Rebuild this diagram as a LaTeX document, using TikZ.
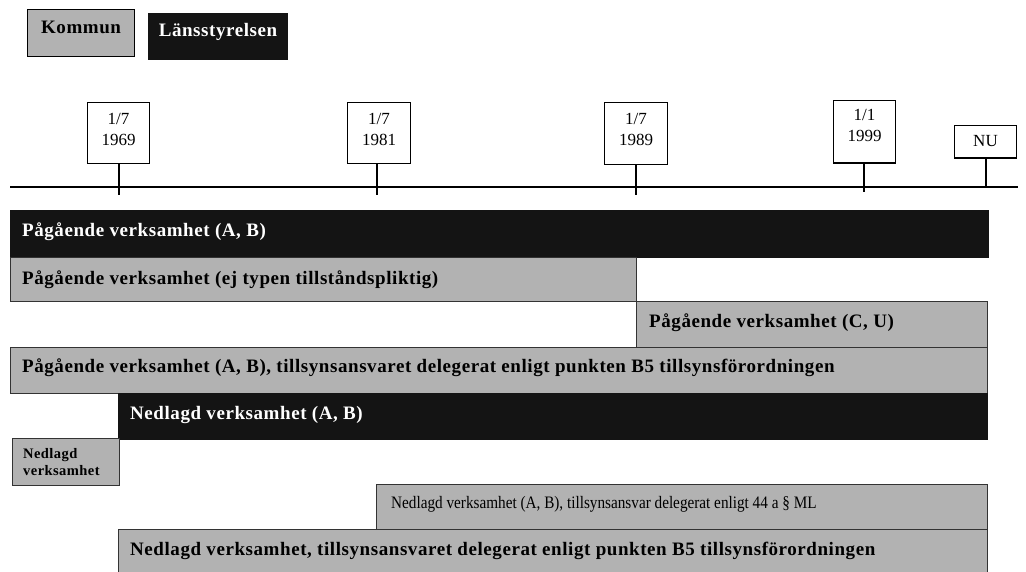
\documentclass[tikz,border=0pt]{standalone}
\usepackage{fontspec}
\usepackage{graphicx}
\setmainfont{Liberation Serif}
\newfontfamily\barfont[LetterSpace=3]{Liberation Serif}
\usetikzlibrary{calc}
\definecolor{bargray}{HTML}{B2B2B2}
\definecolor{barblack}{HTML}{141414}
\definecolor{edge}{HTML}{333333}
\begin{document}
\begin{tikzpicture}[x=1pt,y=-1pt,
  graybar/.style={draw=edge,line width=1pt,fill=bargray,inner sep=0pt,anchor=north west},
  blackbar/.style={draw=barblack,line width=1pt,fill=barblack,inner sep=0pt,anchor=north west},
  barlabel/.style={anchor=base west,inner sep=0pt,font=\barfont\bfseries\fontsize{19}{22}\selectfont},
  datebox/.style={draw=black,line width=1pt,fill=white,inner sep=0pt,anchor=north west},
  datetext/.style={align=center,inner sep=0pt,font=\fontsize{17}{21}\selectfont},
  tick/.style={line width=2.2pt}
]
\useasboundingbox[fill=white] (0,0) rectangle (1026,572);

% legend
\node[graybar,draw=black,line width=1.2pt,minimum width=107pt,minimum height=47pt] (kommun) at (27,9) {};
\node[barlabel,anchor=base] (kommunt) at ($(kommun.north)+(0,25)$) {Kommun};
\node[blackbar,minimum width=139pt,minimum height=46pt] (lans) at (148,13) {};
\node[barlabel,anchor=base,text=white] (lanst) at ($(lans.north)+(0,24)$) {Länsstyrelsen};

% timeline
\coordinate (tl0) at (10,187);
\coordinate (tl1) at (1018,187);
\draw[line width=2.2pt] (tl0) -- (tl1);

\node[datebox,minimum width=62pt,minimum height=61pt] (d1) at (87,102) {};
\node[datebox,minimum width=63pt,minimum height=61pt] (d2) at (347,102) {};
\node[datebox,minimum width=63pt,minimum height=62pt] (d3) at (604,102) {};
\node[datebox,minimum width=62pt,minimum height=62pt] (d4) at (833,100) {};
\node[datebox,minimum width=62pt,minimum height=32pt] (d5) at (954,125) {};

\node[datetext] (d1t) at ($(d1.center)+(0,-4)$) {1/7\\1969};
\node[datetext] (d2t) at ($(d2.center)+(0,-4)$) {1/7\\1981};
\node[datetext] (d3t) at ($(d3.center)+(0,-4)$) {1/7\\1989};
\node[datetext] (d4t) at ($(d4.center)+(0,-6)$) {1/1\\1999};
\node[datetext] (d5t) at (d5.center) {NU};

\coordinate (k1) at (119,195);
\coordinate (k2) at (377,195);
\coordinate (k3) at (636,195);
\coordinate (k4) at (864,192);
\coordinate (k5) at (986,187);
\draw[tick] (d1.south -| k1) -- (k1);
\draw[tick] (d2.south -| k2) -- (k2);
\draw[tick] (d3.south -| k3) -- (k3);
\draw[tick] (d4.south -| k4) -- (k4);
\draw[tick] (d5.south -| k5) -- (k5);
\draw[line width=2pt] (d4.south west) -- (d4.south east);
\draw[line width=2pt] (d5.south west) -- (d5.south east);

% bars
\node[blackbar,minimum width=978pt,minimum height=47pt] (b1) at (10,210) {};
\node[graybar,minimum width=626pt,minimum height=44pt] (b2) at (10,257) {};
\node[graybar,minimum width=351pt,minimum height=46pt] (b3) at (636,301) {};
\node[graybar,minimum width=977pt,minimum height=46pt] (b4) at (10,347) {};
\node[blackbar,minimum width=869pt,minimum height=46pt] (b5) at (118,393) {};
\node[graybar,minimum width=107pt,minimum height=47pt] (b6) at (12,438) {};
\node[graybar,minimum width=611pt,minimum height=45pt] (b7) at (376,484) {};
\node[graybar,minimum width=869pt,minimum height=48pt] (b8) at (118,529) {};

\node[barlabel,text=white] (b1t) at ($(b1.north west)+(12,27)$) {Pågående verksamhet (A, B)};
\node[barlabel] (b2t) at ($(b2.north west)+(12,28)$) {Pågående verksamhet (ej typen tillståndspliktig)};
\node[barlabel] (b3t) at ($(b3.north west)+(13,26)$) {Pågående verksamhet (C, U)};
\node[barlabel] (b4t) at ($(b4.north west)+(12,25)$) {Pågående verksamhet (A, B), tillsynsansvaret delegerat enligt punkten B5 tillsynsförordningen};
\node[barlabel,text=white] (b5t) at ($(b5.north west)+(12,26)$) {Nedlagd verksamhet (A, B)};
\node[anchor=base west,inner sep=0pt,align=left,font=\barfont\bfseries\fontsize{14.5}{17}\selectfont] (b6t) at ($(b6.north west)+(11,37)$) {Nedlagd\\verksamhet};
\node[anchor=base west,inner sep=0pt,font=\fontsize{17.5}{20}\selectfont] (b7t) at ($(b7.north west)+(15,24)$) {\scalebox{0.87}[1]{Nedlagd verksamhet (A, B), tillsynsansvar delegerat enligt 44 a § ML}};
\node[barlabel] (b8t) at ($(b8.north west)+(12,26)$) {Nedlagd verksamhet, tillsynsansvaret delegerat enligt punkten B5 tillsynsförordningen};
\end{tikzpicture}
\end{document}
